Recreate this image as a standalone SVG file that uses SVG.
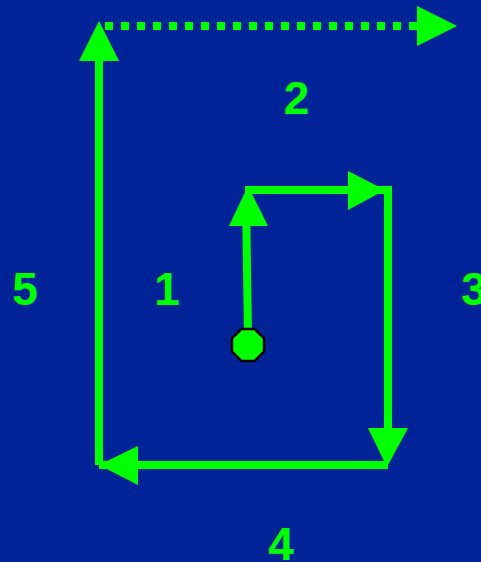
<svg xmlns="http://www.w3.org/2000/svg" width="481" height="562" viewBox="0 0 481 562">
<style>
.ln{stroke:#00ff00;stroke-width:8;fill:none}
.ah{fill:#00ff00}
.lb{font-family:"Liberation Sans",Arial,sans-serif;font-weight:bold;font-size:46px;fill:#00ff00;text-anchor:middle}
</style>
<rect width="481" height="562" fill="#002498"/>
<g id="connectors">
<line class="ln" x1="105" y1="26" x2="420" y2="26" stroke-dasharray="8 8"/>
<polygon class="ah" points="417,6 457,26 417,46"/>
<line class="ln" x1="99" y1="465" x2="99" y2="55"/>
<polygon class="ah" points="99,21 119,61 79,61"/>
<line class="ln" x1="99" y1="465" x2="388" y2="465"/>
<polygon class="ah" points="99,465 138,446 138,485"/>
<line class="ln" x1="388" y1="186" x2="388" y2="435"/>
<polygon class="ah" points="368,428 408,428 387,467"/>
<line class="ln" x1="245" y1="190" x2="388" y2="190"/>
<polygon class="ah" points="348,171 385,190 348,210"/>
<line class="ln" x1="248" y1="335" x2="246" y2="200"/>
<polygon class="ah" points="248,186 268,226 229,226"/>
</g>
<g id="start">
<polygon points="241.4,329 254.6,329 264,338.4 264,351.6 254.6,361 241.4,361 232,351.6 232,338.4" fill="#00ff00" stroke="#000" stroke-width="2.5"/>
</g>
<g id="labels">
<text class="lb" x="296.5" y="114">2</text>
<text class="lb" x="25" y="305">5</text>
<text class="lb" x="167" y="305">1</text>
<text class="lb" x="474" y="305">3</text>
<text class="lb" x="281" y="560">4</text>
</g>
</svg>
